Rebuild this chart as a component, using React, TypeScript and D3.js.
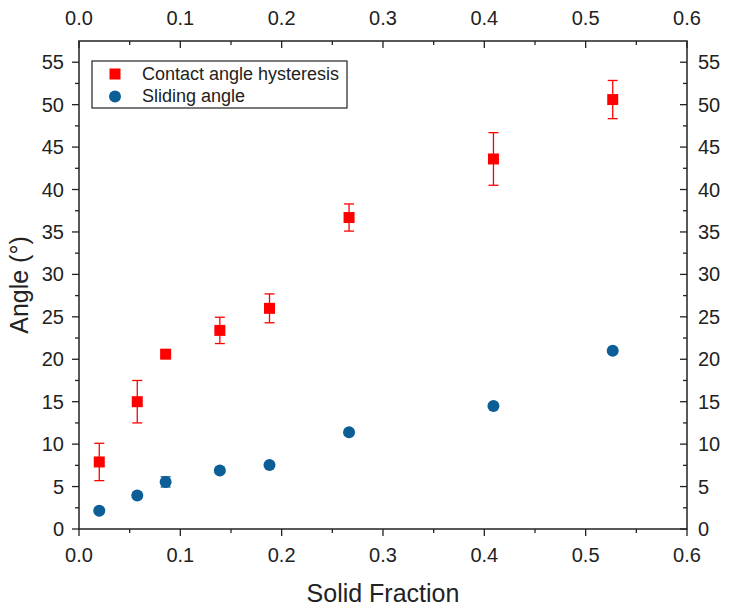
import * as d3 from "d3";

const solidFraction = [0.02, 0.0575, 0.0855, 0.139, 0.188, 0.2665, 0.409, 0.5267];
const hysteresis = [7.9, 15.0, 20.6, 23.4, 26.0, 36.7, 43.6, 50.6];
const hysteresisErr = [2.2, 2.5, 0.3, 1.55, 1.7, 1.6, 3.1, 2.25];
const sliding = [2.15, 3.95, 5.55, 6.9, 7.55, 11.4, 14.5, 21.0];
const slidingErr = [0.2, 0.2, 0.6, 0.2, 0.2, 0.2, 0.2, 0.2];
const xTicks = [0, 0.1, 0.2, 0.3, 0.4, 0.5, 0.6];
const yTicks = [0, 5, 10, 15, 20, 25, 30, 35, 40, 45, 50, 55];
const legendLabels = ["Contact angle hysteresis", "Sliding angle"];

const W = 729;
const H = 612;
const margin = { top: 41, right: 42, bottom: 83, left: 79 };
const RED = "#ff0000";
const BLUE = "#0b5e96";
const FONT = "Arial, 'Liberation Sans', sans-serif";

export default function App() {
  const x = d3.scaleLinear().domain([0, 0.6]).range([margin.left, W - margin.right]);
  const y = d3.scaleLinear().domain([0, 57.5]).range([H - margin.bottom, margin.top]);
  const x0 = x.range()[0], x1 = x.range()[1];
  const y0 = y.range()[0], y1 = y.range()[1];
  const xMinor = d3.range(0.05, 0.6, 0.1);
  const yMinor = d3.range(2.5, 57.5, 5);
  const tickStroke = { stroke: "#222", strokeWidth: 1.3 };

  return (
    <svg width={W} height={H} style={{ position: "absolute", left: 0, top: 0, background: "#fff" }} fontFamily={FONT}>
      <rect x={0} y={0} width={W} height={H} fill="#fff" />
      {/* frame */}
      <rect x={x0} y={y1} width={x1 - x0} height={y0 - y1} fill="none" stroke="#222" strokeWidth={1.5} />

      {/* bottom axis: ticks out */}
      {xTicks.map(t => (
        <g key={"b" + t}>
          <line x1={x(t)} x2={x(t)} y1={y0} y2={y0 + 7} {...tickStroke} />
          <text x={x(t)} y={y0 + 33} fontSize={20} textAnchor="middle" fill="#222">{t.toFixed(1)}</text>
        </g>
      ))}
      {xMinor.map(t => <line key={"bm" + t} x1={x(t)} x2={x(t)} y1={y0} y2={y0 + 4} {...tickStroke} />)}

      {/* top axis: ticks in */}
      {xTicks.map(t => (
        <g key={"t" + t}>
          <line x1={x(t)} x2={x(t)} y1={y1} y2={y1 + 7} {...tickStroke} />
          <text x={x(t)} y={y1 - 16} fontSize={20} textAnchor="middle" fill="#222">{t.toFixed(1)}</text>
        </g>
      ))}
      {xMinor.map(t => <line key={"tm" + t} x1={x(t)} x2={x(t)} y1={y1} y2={y1 + 4} {...tickStroke} />)}

      {/* left axis: ticks out */}
      {yTicks.map(t => (
        <g key={"l" + t}>
          <line x1={x0 - 7} x2={x0} y1={y(t)} y2={y(t)} {...tickStroke} />
          <text x={x0 - 15} y={y(t) + 7} fontSize={20} textAnchor="end" fill="#222">{t}</text>
        </g>
      ))}
      {yMinor.map(t => <line key={"lm" + t} x1={x0 - 4} x2={x0} y1={y(t)} y2={y(t)} {...tickStroke} />)}

      {/* right axis: ticks in */}
      {yTicks.map(t => (
        <g key={"r" + t}>
          <line x1={x1 - 7} x2={x1} y1={y(t)} y2={y(t)} {...tickStroke} />
          <text x={x1 + 11} y={y(t) + 7} fontSize={20} textAnchor="start" fill="#222">{t}</text>
        </g>
      ))}
      {yMinor.map(t => <line key={"rm" + t} x1={x1 - 4} x2={x1} y1={y(t)} y2={y(t)} {...tickStroke} />)}

      {/* axis titles */}
      <text x={(x0 + x1) / 2} y={602} fontSize={25} textAnchor="middle" fill="#222">Solid Fraction</text>
      <text transform={`translate(28,${(y0 + y1) / 2}) rotate(-90)`} fontSize={25} textAnchor="middle" fill="#222">Angle (°)</text>

      {/* error bars */}
      {solidFraction.map((sf, i) => (
        <g key={"eh" + i} stroke={RED} strokeWidth={1.3}>
          <line x1={x(sf)} x2={x(sf)} y1={y(hysteresis[i] - hysteresisErr[i])} y2={y(hysteresis[i] + hysteresisErr[i])} />
          <line x1={x(sf) - 5} x2={x(sf) + 5} y1={y(hysteresis[i] + hysteresisErr[i])} y2={y(hysteresis[i] + hysteresisErr[i])} />
          <line x1={x(sf) - 5} x2={x(sf) + 5} y1={y(hysteresis[i] - hysteresisErr[i])} y2={y(hysteresis[i] - hysteresisErr[i])} />
        </g>
      ))}
      {solidFraction.map((sf, i) => (
        <g key={"es" + i} stroke={BLUE} strokeWidth={1.3}>
          <line x1={x(sf)} x2={x(sf)} y1={y(sliding[i] - slidingErr[i])} y2={y(sliding[i] + slidingErr[i])} />
          <line x1={x(sf) - 5} x2={x(sf) + 5} y1={y(sliding[i] + slidingErr[i])} y2={y(sliding[i] + slidingErr[i])} />
          <line x1={x(sf) - 5} x2={x(sf) + 5} y1={y(sliding[i] - slidingErr[i])} y2={y(sliding[i] - slidingErr[i])} />
        </g>
      ))}

      {/* markers */}
      {solidFraction.map((sf, i) => (
        <rect key={"h" + i} x={x(sf) - 5.5} y={y(hysteresis[i]) - 5.5} width={11} height={11} fill={RED} />
      ))}
      {solidFraction.map((sf, i) => (
        <circle key={"s" + i} cx={x(sf)} cy={y(sliding[i])} r={6} fill={BLUE} />
      ))}

      {/* legend */}
      <rect x={92} y={61} width={255} height={47} fill="#fff" stroke="#222" strokeWidth={1.2} />
      <rect x={109.5} y={68.5} width={11} height={11} fill={RED} />
      <text x={142} y={80} fontSize={18} fill="#222">{legendLabels[0]}</text>
      <circle cx={115} cy={96.5} r={6} fill={BLUE} />
      <text x={142} y={102} fontSize={18} fill="#222">{legendLabels[1]}</text>
    </svg>
  );
}
